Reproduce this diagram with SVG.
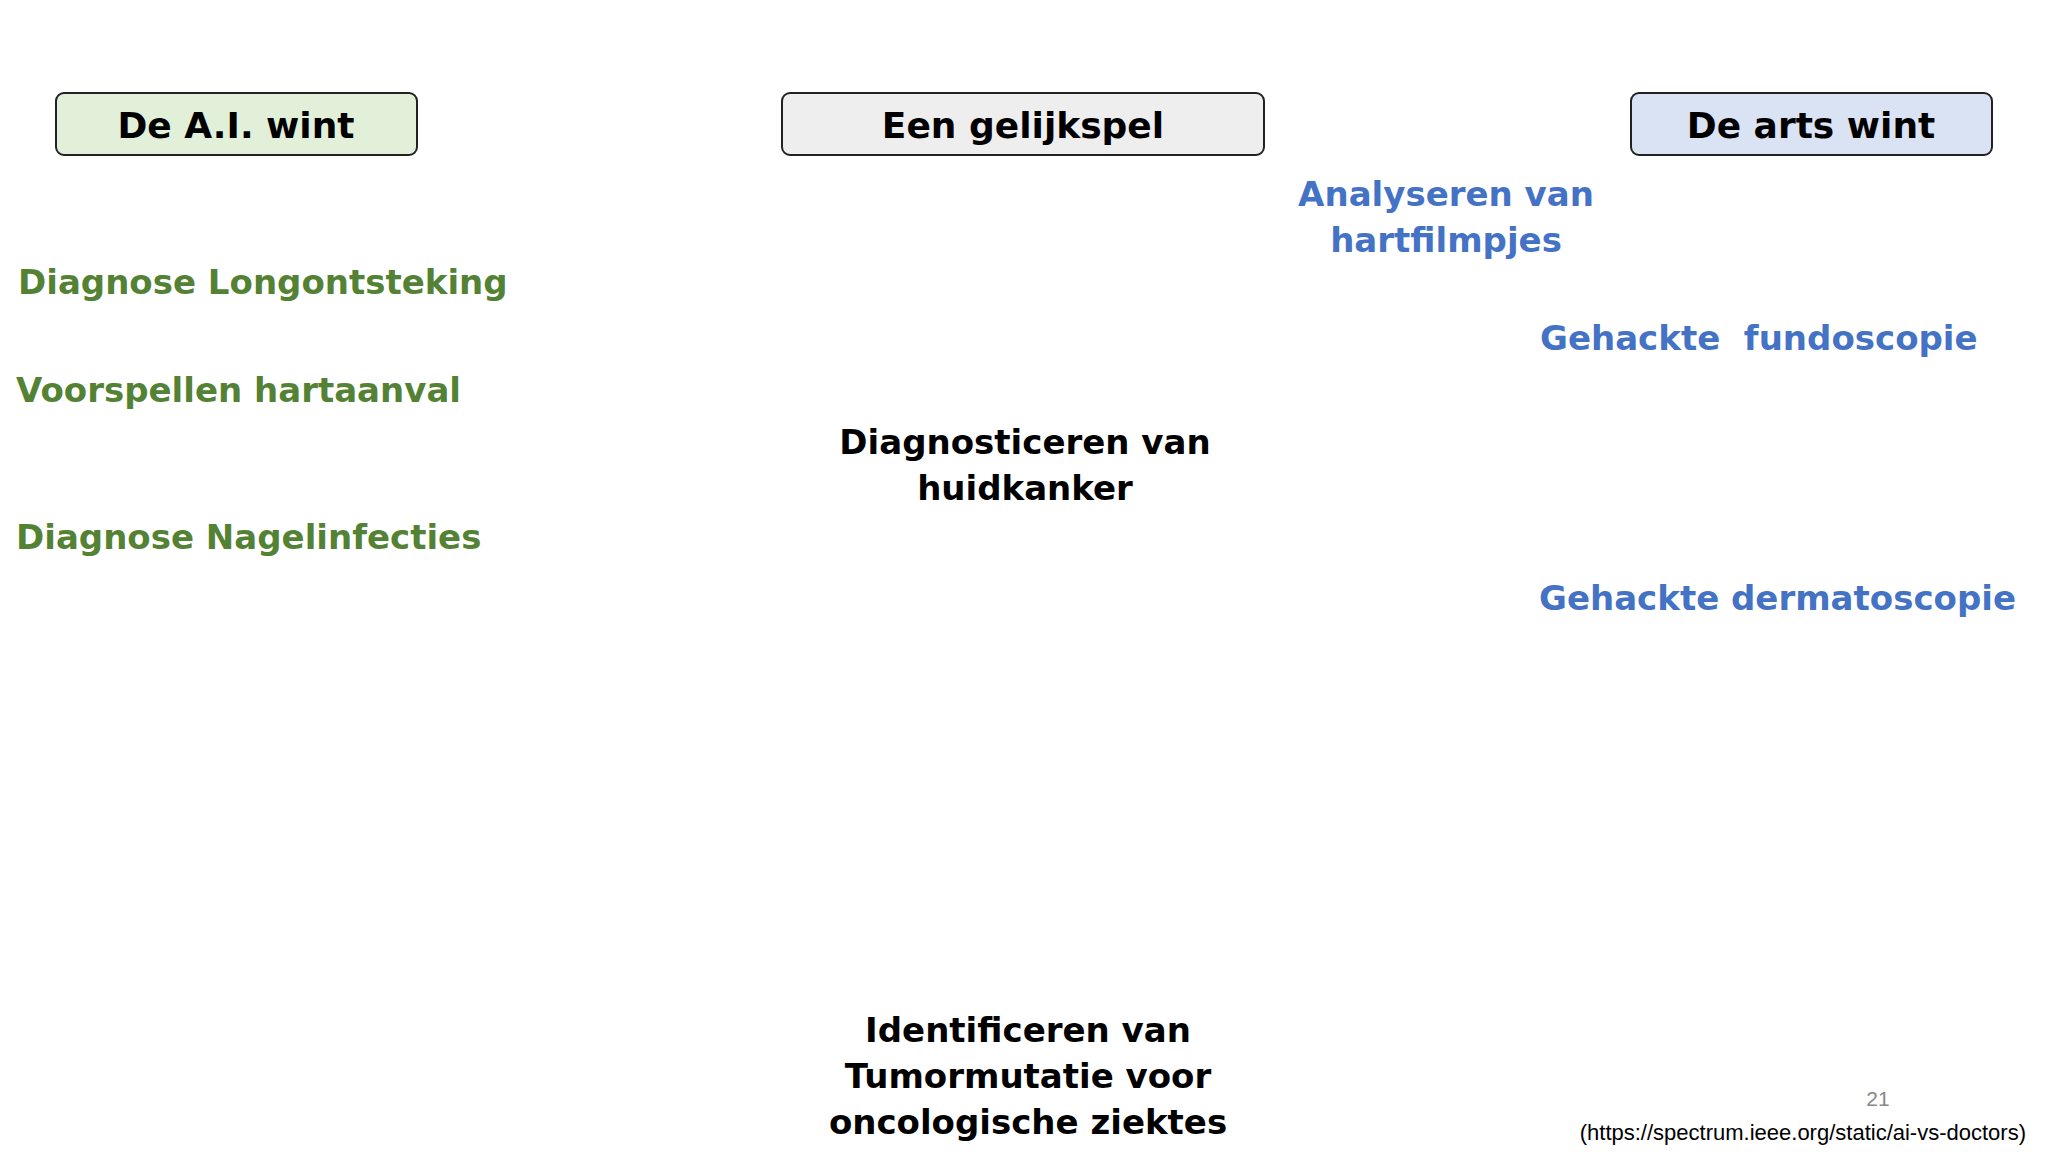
<svg xmlns="http://www.w3.org/2000/svg" width="2048" height="1152" viewBox="0 0 2048 1152">
<style>
.hd{font-family:"DejaVu Sans",Verdana,sans-serif;font-weight:bold;font-size:36px;fill:#000;text-anchor:middle}
.t{font-family:"DejaVu Sans",Verdana,sans-serif;font-weight:bold;font-size:34px}
.g{fill:#548235}.b{fill:#4472c4}.k{fill:#000}
.box{stroke:#222;stroke-width:2}
</style>
<rect width="2048" height="1152" fill="#fff"/>
<g id="ai"><rect class="box" x="56" y="93" width="361" height="62" rx="8" fill="#e2f0d9"/><text class="hd" x="236" y="138">De A.I. wint</text></g>
<g id="gelijk"><rect class="box" x="782" y="93" width="482" height="62" rx="8" fill="#eeeeee"/><text class="hd" x="1023" y="138">Een gelijkspel</text></g>
<g id="arts"><rect class="box" x="1631" y="93" width="361" height="62" rx="8" fill="#dae3f3"/><text class="hd" x="1811" y="138">De arts wint</text></g>
<g id="ai-items" class="t g">
<text x="18" y="294">Diagnose Longontsteking</text>
<text x="16" y="402">Voorspellen hartaanval</text>
<text x="16" y="549">Diagnose Nagelinfecties</text>
</g>
<g id="arts-items" class="t b">
<text x="1446" y="206" text-anchor="middle">Analyseren van</text>
<text x="1446" y="252" text-anchor="middle">hartfilmpjes</text>
<text x="1540" y="350" xml:space="preserve">Gehackte  fundoscopie</text>
<text x="1539" y="610">Gehackte dermatoscopie</text>
</g>
<g id="gelijk-items" class="t k" text-anchor="middle">
<text x="1025" y="454">Diagnosticeren van</text>
<text x="1025" y="500">huidkanker</text>
<text x="1028" y="1042">Identificeren van</text>
<text x="1028" y="1088">Tumormutatie voor</text>
<text x="1028" y="1134">oncologische ziektes</text>
</g>
<g id="connectors"></g>
<text x="1878" y="1106" font-family="Liberation Sans,Arial,sans-serif" font-size="21" fill="#888" text-anchor="middle">21</text>
<text x="2026" y="1140" font-family="Liberation Sans,Arial,sans-serif" font-size="22" fill="#000" text-anchor="end">(https://spectrum.ieee.org/static/ai-vs-doctors)</text>
</svg>
